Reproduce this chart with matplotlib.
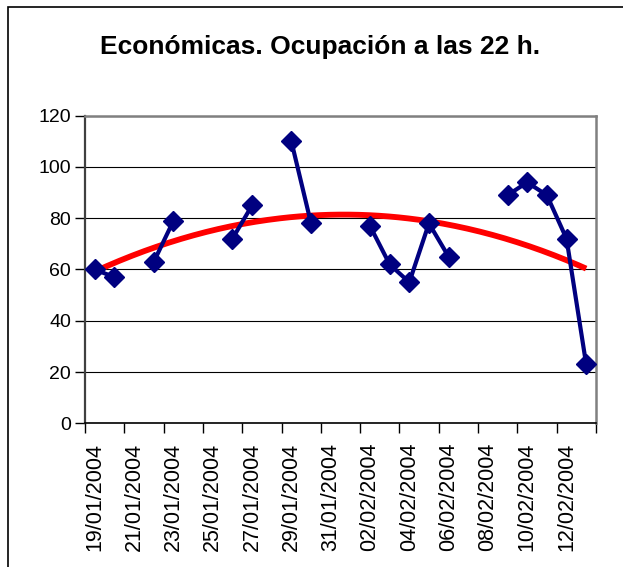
import matplotlib
matplotlib.use('Agg')
import matplotlib.pyplot as plt
import matplotlib.dates as mdates
from matplotlib.patches import Rectangle
import numpy as np
import datetime as dt

plt.rcParams['font.family'] = ['Liberation Sans', 'DejaVu Sans']

# data: one value per day, None = no data that day
dias = ['19/01/2004', '20/01/2004', '21/01/2004', '22/01/2004', '23/01/2004',
        '24/01/2004', '25/01/2004', '26/01/2004', '27/01/2004', '28/01/2004',
        '29/01/2004', '30/01/2004', '31/01/2004', '01/02/2004', '02/02/2004',
        '03/02/2004', '04/02/2004', '05/02/2004', '06/02/2004', '07/02/2004',
        '08/02/2004', '09/02/2004', '10/02/2004', '11/02/2004', '12/02/2004',
        '13/02/2004']
ocupacion = [60, 57, None, 63, 79,
             None, None, 72, 85, None,
             110, 78, None, None, 77,
             62, 55, 78, 65, None,
             None, 89, 94, 89, 72,
             23]
etiquetas = ['19/01/2004', '21/01/2004', '23/01/2004', '25/01/2004', '27/01/2004',
             '29/01/2004', '31/01/2004', '02/02/2004', '04/02/2004', '06/02/2004',
             '08/02/2004', '10/02/2004', '12/02/2004']
titulo = 'Económicas. Ocupación a las 22 h.'

fechas = [dt.datetime.strptime(d, '%d/%m/%Y') for d in dias]
xc = mdates.date2num(fechas) + 0.5   # points sit in the middle of each day
y = np.array([np.nan if v is None else v for v in ocupacion], dtype=float)

fig = plt.figure(figsize=(6.23, 5.67), dpi=100)
fig.patches.append(Rectangle((8/623, -0.1), 1.2, 1.1 - 7/567, transform=fig.transFigure,
                             fill=False, edgecolor='black', lw=1.2))
ax = fig.add_axes([85/623, 1 - 423.3/567, (596 - 85)/623, (423.3 - 115.7)/567])

# polynomial (order 2) trend line like Excel's
ok = ~np.isnan(y)
coef = np.polyfit(xc[ok], y[ok], 2)
xt = np.linspace(xc[ok][0], xc[ok][-1], 200)
ax.plot(xt, np.polyval(coef, xt), color='#ff0000', lw=4.2, zorder=3, solid_capstyle='butt')

ax.plot(xc, y, color='#000080', lw=3, marker='D', ms=10.5, zorder=4)

x0 = mdates.date2num(fechas[0])
ax.set_xlim(x0, x0 + len(dias))
# tick marks on day boundaries, labels centred on the day
ax.set_xticks(x0 + np.arange(0, len(dias) + 1, 2))
ax.set_xticklabels([])
ax.set_xticks(x0 + 0.5 + np.arange(0, len(dias), 2), minor=True)
ax.set_xticklabels(etiquetas, minor=True, rotation=90, fontsize=15.5)
ax.tick_params(axis='x', which='major', length=7, width=1, direction='out')
ax.tick_params(axis='x', which='minor', length=0, pad=14)
ax.set_ylim(0, 120)
ax.set_yticks(np.arange(0, 121, 20))
ax.tick_params(axis='y', labelsize=14, length=7, width=1, pad=3, direction='out')
ax.grid(axis='y', color='black', lw=0.8)
ax.set_axisbelow(True)
for s in ['top', 'right']:
    ax.spines[s].set_color('#808080')
    ax.spines[s].set_linewidth(1.8)
ax.spines['left'].set_color('#404040')
ax.spines['left'].set_linewidth(1.6)
ax.spines['bottom'].set_linewidth(1.2)

fig.text(320/623, 1 - 47/567, titulo, ha='center', va='center', fontsize=19, fontweight='bold')

fig.savefig('out.png', dpi=100)
